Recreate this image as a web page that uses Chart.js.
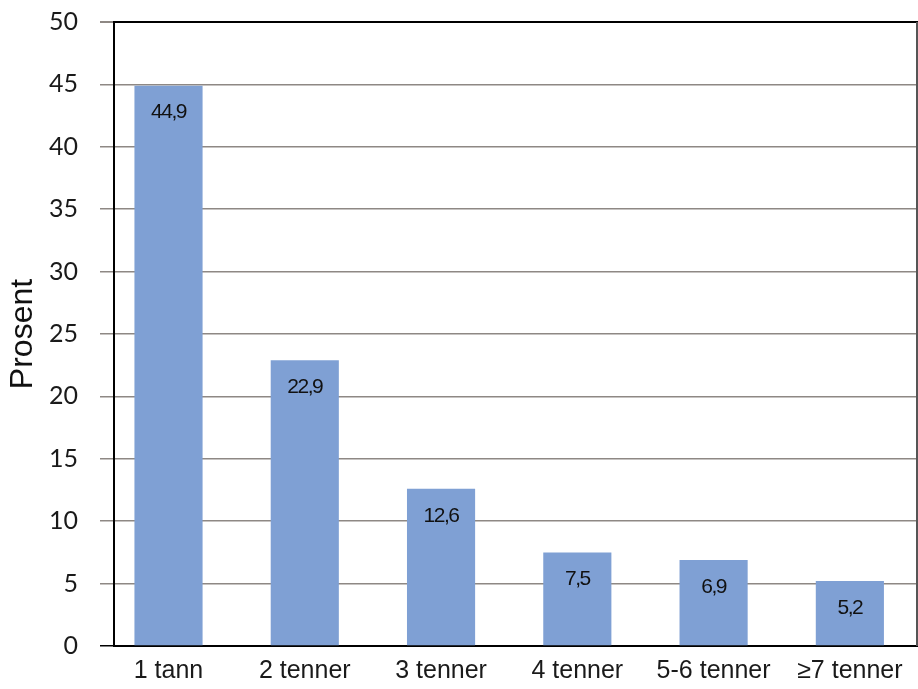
<!DOCTYPE html>
<html>
<head>
<meta charset="utf-8">
<script src="https://cdn.jsdelivr.net/npm/chart.js@4.4.1/dist/chart.umd.min.js"></script>
<style>
  html, body { margin: 0; padding: 0; background: #fff; }
  #wrap { width: 918px; height: 689px; }
</style>
</head>
<body>
<div id="wrap"><canvas id="c" width="918" height="689"></canvas></div>
<script>
const categories = ['1 tann', '2 tenner', '3 tenner', '4 tenner', '5-6 tenner', '\u22657 tenner'];
const values = [44.9, 22.9, 12.6, 7.5, 6.9, 5.2];
const yTicks = [0, 5, 10, 15, 20, 25, 30, 35, 40, 45, 50];
const yTitle = 'Prosent';

const barColor = '#7fa0d4';
const gridColor = '#8e8884';

const points = values.map((v, i) => ({ x: i, y: v }));

const valueLabels = {
  id: 'valueLabels',
  afterDatasetsDraw(chart) {
    const ctx = chart.ctx;
    const meta = chart.getDatasetMeta(0);
    ctx.save();
    ctx.font = '21px "Liberation Sans", Arial, sans-serif';
    ctx.fillStyle = '#111';
    ctx.textAlign = 'center';
    ctx.textBaseline = 'middle';
    try { ctx.letterSpacing = '-1.5px'; } catch (e) {}
    meta.data.forEach((bar, i) => {
      const txt = values[i].toFixed(1).replace('.', ',');
      ctx.fillText(txt, bar.x, bar.y + 27);
    });
    ctx.restore();
  }
};

const rightBorder = {
  id: 'rightBorder',
  afterDraw(chart) {
    const { ctx, chartArea } = chart;
    ctx.save();
    ctx.strokeStyle = '#555';
    ctx.lineWidth = 2;
    ctx.beginPath();
    ctx.moveTo(chartArea.right - 1, chartArea.top);
    ctx.lineTo(chartArea.right - 1, chartArea.bottom);
    ctx.stroke();
    ctx.restore();
  }
};

new Chart(document.getElementById('c'), {
  type: 'bar',
  data: {
    datasets: [{
      data: points,
      backgroundColor: barColor,
      borderWidth: 0,
      barPercentage: 0.5,
      categoryPercentage: 1
    }]
  },
  options: {
    responsive: false,
    animation: false,
    devicePixelRatio: 1,
    layout: { padding: { top: 22, left: 0, right: 0, bottom: 0 } },
    plugins: { legend: { display: false }, tooltip: { enabled: false } },
    scales: {
      x: {
        type: 'linear',
        offset: false,
        min: -0.4,
        max: 5.5,
        afterBuildTicks: (s) => { s.ticks = categories.map((_, i) => ({ value: i })); },
        afterFit: (s) => { s.height = 43; s.paddingLeft = 0; s.paddingRight = 0; },
        grid: { display: true, offset: false, drawOnChartArea: false, drawTicks: false },
        border: { display: true, color: '#000', width: 2 },
        ticks: {
          stepSize: 1,
          autoSkip: false,
          maxRotation: 0,
          padding: 10,
          color: '#1a1a1a',
          font: { family: '"Liberation Sans", Arial, sans-serif', size: 25 },
          callback: (v) => categories[v] !== undefined ? categories[v] : ''
        }
      },
      y: {
        min: 0,
        max: 50,
        afterBuildTicks: (s) => { s.ticks = yTicks.map(v => ({ value: v })); },
        afterFit: (s) => { s.width = 114; s.paddingTop = 0; s.paddingBottom = 0; },
        grid: {
          color: (c) => c.tick && c.tick.value === 50 ? '#000' : gridColor,
          lineWidth: (c) => c.tick && c.tick.value === 50 ? 2 : 1.5,
          tickColor: (c) => c.tick && c.tick.value === 0 ? '#000' : gridColor,
          tickLength: 14
        },
        border: { display: true, color: '#000', width: 2 },
        ticks: {
          stepSize: 5,
          padding: 22,
          color: '#1a1a1a',
          font: { family: 'Lato, "Open Sans", sans-serif', size: 25 }
        },
        title: {
          display: true,
          text: yTitle,
          color: '#111',
          padding: { top: 4, bottom: 0 },
          font: { family: '"Liberation Sans", Arial, sans-serif', size: 32 }
        }
      }
    }
  },
  plugins: [valueLabels, rightBorder]
});
</script>
</body>
</html>
